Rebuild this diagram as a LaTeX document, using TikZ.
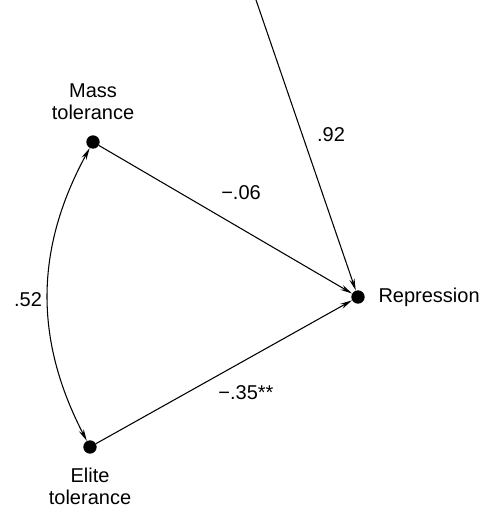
\documentclass[tikz,border=0pt]{standalone}
\usepackage{fontspec}
\setmainfont{Liberation Sans}
\usetikzlibrary{arrows.meta,positioning}
\begin{document}
\begin{tikzpicture}[
    x=0.75pt, y=-0.75pt,
    var/.style={circle, fill=black, inner sep=0pt, minimum size=10pt},
    lbl/.style={font=\fontsize{15}{16.5}\selectfont, align=center, inner sep=1pt},
    path/.style={line width=0.8pt, -{Stealth[length=9pt,width=4pt]}},
    corr/.style={line width=0.8pt, {Stealth[length=9pt,width=4pt]}-{Stealth[length=9pt,width=4pt]}}
]
\useasboundingbox (0,0) rectangle (485,510);
% variablen
\node[var] (mass) at (93,142) {};
\node[var] (elite) at (90,447) {};
\node[var] (rep) at (358,297) {};
\coordinate (err) at (256,0);

\node[lbl, above=10pt of mass] (massl) {Mass\\tolerance};
\node[lbl, below=9pt of elite] (elitel) {Elite\\tolerance};
\node[lbl, right=9pt of rep] (repl) {Repression};

% pfade
\draw[path] (mass) -- (rep);
\draw[path] (elite) -- (rep);
\draw[path] (err) -- (rep);
\draw[corr] (mass) to[bend right=28] (elite);

% koeffizienten
\node[lbl] (r52) at (28,300) {.52};
\node[lbl] (b06) at (241,193) {−.06};
\node[lbl] (b35) at (246,393) {−.35**};
\node[lbl] (b92) at (331,135) {.92};
\end{tikzpicture}
\end{document}
